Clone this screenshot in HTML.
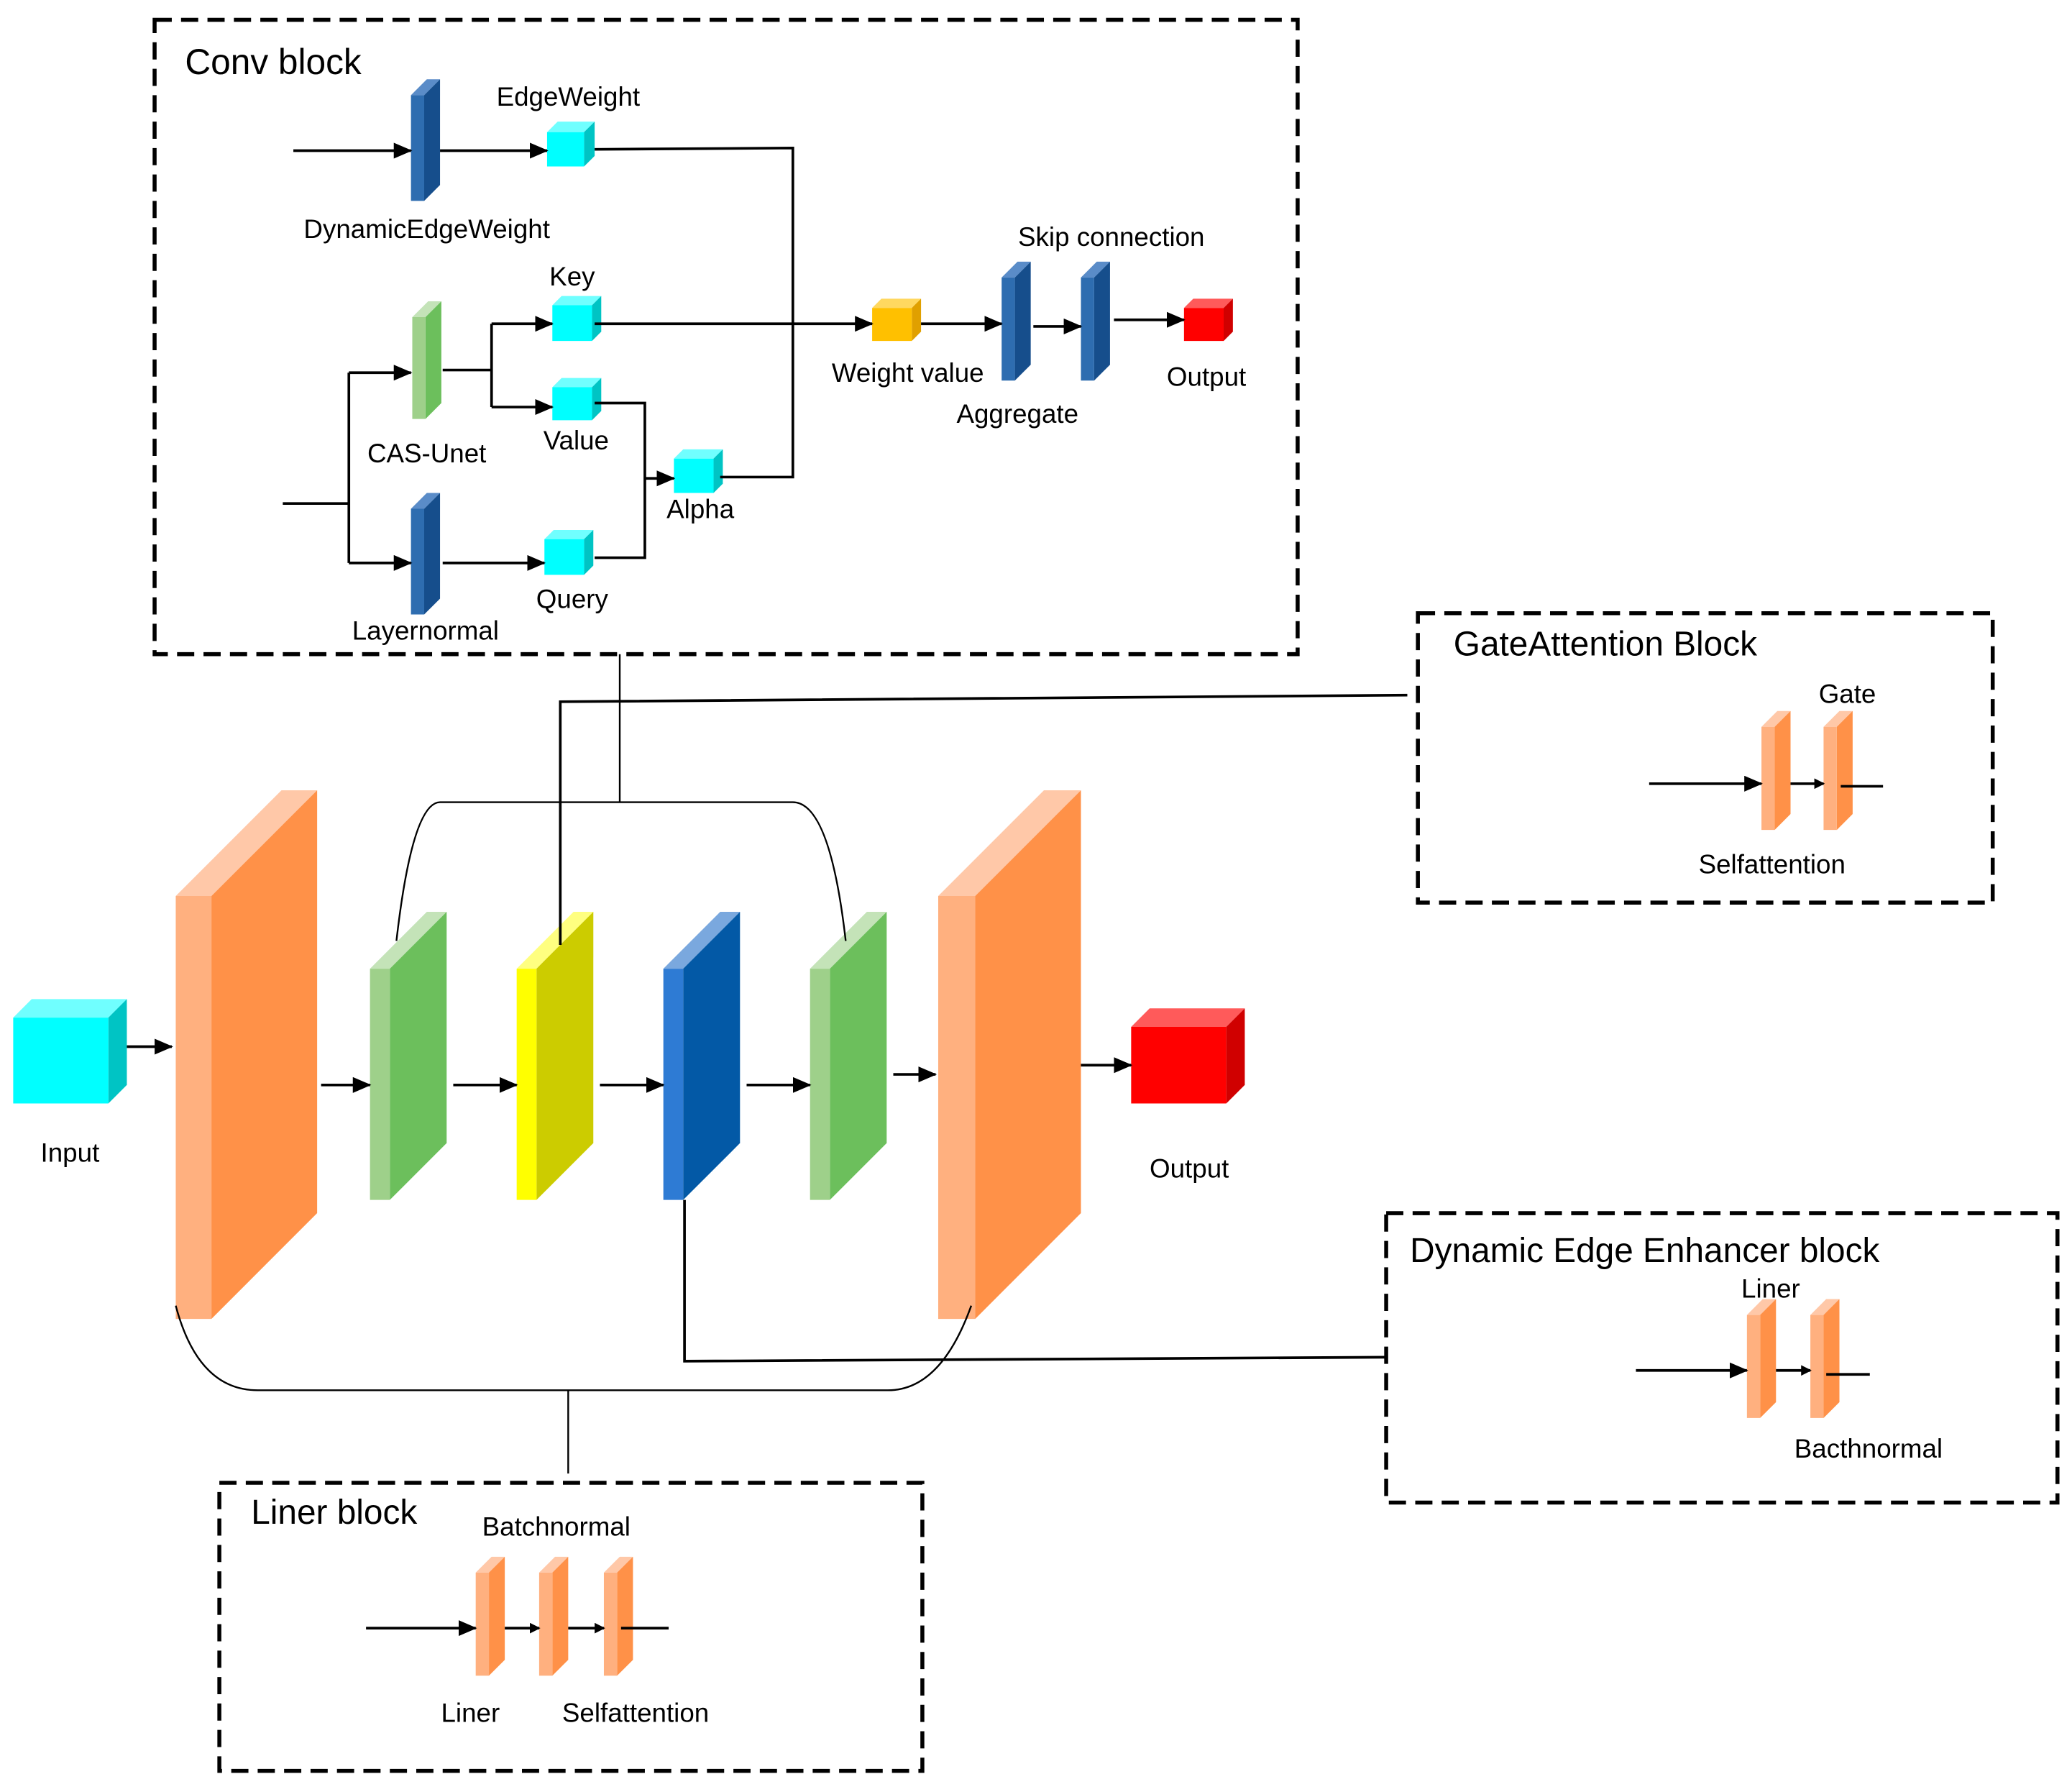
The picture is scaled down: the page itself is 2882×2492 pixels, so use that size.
<!DOCTYPE html>
<html><head><meta charset="utf-8"><style>
html,body{margin:0;padding:0;background:#fff;}
svg{display:block}
text{font-family:"Liberation Sans","DejaVu Sans",sans-serif;fill:#000}
</style></head><body>
<svg width="2882" height="2492" viewBox="0 0 1568 1356" preserveAspectRatio="none" xmlns="http://www.w3.org/2000/svg">
<defs>
<marker id="a" markerWidth="8" markerHeight="8" refX="7" refY="4" orient="auto" markerUnits="userSpaceOnUse"><path d="M0,0 L8,4 L0,8 z" fill="#000"/></marker>
<marker id="b" markerWidth="14" markerHeight="12" refX="13" refY="6" orient="auto" markerUnits="userSpaceOnUse"><path d="M0,0 L14,6 L0,12 z" fill="#000"/></marker>
</defs>
<rect width="1568" height="1356" fill="#fff"/>
<g id="shapes"></g>
<g fill="none" stroke="#000" stroke-width="3" stroke-dasharray="13 7">
<rect x="117" y="15" width="865" height="480"/>
<rect x="1073" y="464" width="435" height="219"/>
<rect x="1049" y="918" width="508" height="219"/>
<rect x="166" y="1122" width="532" height="218"/>
</g>
<g fill="none" stroke="#000" stroke-width="1.3">
<line x1="469" y1="495" x2="469" y2="607"/>
<path d="M300,712 Q312,607 333,607 L600,607 Q628,607 640,712"/>
<path d="M133,988 Q150,1052 195,1052 L672,1052 Q712,1052 735,988"/>
<line x1="430" y1="1052" x2="430" y2="1115"/>
</g>
<g fill="none" stroke="#000" stroke-width="2">
<polyline points="424,715 424,531 1065,526"/>
<polyline points="518,908 518,1030 1049,1027"/>
<polyline points="450,113 600,112 600,361 545,361"/>
<polyline points="214,381 264,381"/>
<line x1="264" y1="282" x2="264" y2="426"/>
<polyline points="335,280 372,280"/>
<line x1="372" y1="245" x2="372" y2="308"/>
<polyline points="450,305 488,305 488,422 450,422"/>
<line x1="1393" y1="595" x2="1425" y2="595"/>
<line x1="1382" y1="1040" x2="1415" y2="1040"/>
<line x1="470" y1="1232" x2="506" y2="1232"/>
</g>
<g fill="none" stroke="#000" stroke-width="2" marker-end="url(#b)">
<line x1="96" y1="792" x2="130" y2="792"/>
<line x1="243" y1="821" x2="280" y2="821"/>
<line x1="343" y1="821" x2="391" y2="821"/>
<line x1="454" y1="821" x2="502" y2="821"/>
<line x1="565" y1="821" x2="613" y2="821"/>
<line x1="676" y1="813" x2="708" y2="813"/>
<line x1="818" y1="806" x2="856" y2="806"/>
</g>
<g fill="none" stroke="#000" stroke-width="2" marker-end="url(#a)" >
<line x1="222" y1="114" x2="311" y2="114" marker-end="url(#b)"/>
<line x1="333" y1="114" x2="414" y2="114" marker-end="url(#b)"/>
<line x1="264" y1="282" x2="311" y2="282" marker-end="url(#b)"/>
<line x1="264" y1="426" x2="311" y2="426" marker-end="url(#b)"/>
<line x1="372" y1="245" x2="418" y2="245" marker-end="url(#b)"/>
<line x1="372" y1="308" x2="418" y2="308" marker-end="url(#b)"/>
<line x1="335" y1="426" x2="412" y2="426" marker-end="url(#b)"/>
<line x1="488" y1="362" x2="510" y2="362" marker-end="url(#b)"/>
<line x1="450" y1="245" x2="660" y2="245" marker-end="url(#b)"/>
<line x1="697" y1="245" x2="758" y2="245" marker-end="url(#b)"/>
<line x1="782" y1="247" x2="818" y2="247" marker-end="url(#b)"/>
<line x1="843" y1="242" x2="896" y2="242" marker-end="url(#b)"/>
<line x1="1248" y1="593" x2="1333" y2="593" marker-end="url(#b)"/>
<line x1="1355" y1="593" x2="1380" y2="593"/>
<line x1="1238" y1="1037" x2="1322" y2="1037" marker-end="url(#b)"/>
<line x1="1344" y1="1037" x2="1370" y2="1037"/>
<line x1="277" y1="1232" x2="360" y2="1232" marker-end="url(#b)"/>
<line x1="382" y1="1232" x2="408" y2="1232"/>
<line x1="430" y1="1232" x2="457" y2="1232"/>
</g>
<g font-size="20">
<text x="140" y="56" font-size="27">Conv block</text>
<text x="430" y="80" text-anchor="middle">EdgeWeight</text>
<text x="323" y="180" text-anchor="middle">DynamicEdgeWeight</text>
<text x="433" y="216" text-anchor="middle">Key</text>
<text x="323" y="350" text-anchor="middle">CAS-Unet</text>
<text x="436" y="340" text-anchor="middle">Value</text>
<text x="433" y="460" text-anchor="middle">Query</text>
<text x="322" y="484" text-anchor="middle">Layernormal</text>
<text x="530" y="392" text-anchor="middle">Alpha</text>
<text x="687" y="289" text-anchor="middle">Weight value</text>
<text x="770" y="320" text-anchor="middle">Aggregate</text>
<text x="841" y="186" text-anchor="middle">Skip connection</text>
<text x="913" y="292" text-anchor="middle">Output</text>
<text x="53" y="879" text-anchor="middle">Input</text>
<text x="900" y="891" text-anchor="middle">Output</text>
<text x="1100" y="496" font-size="26">GateAttention Block</text>
<text x="1398" y="532" text-anchor="middle">Gate</text>
<text x="1341" y="661" text-anchor="middle">Selfattention</text>
<text x="1067" y="955" font-size="26">Dynamic Edge Enhancer block</text>
<text x="1340" y="982" text-anchor="middle">Liner</text>
<text x="1414" y="1103" text-anchor="middle">Bacthnormal</text>
<text x="190" y="1153" font-size="26">Liner block</text>
<text x="421" y="1162" text-anchor="middle">Batchnormal</text>
<text x="356" y="1303" text-anchor="middle">Liner</text>
<text x="481" y="1303" text-anchor="middle">Selfattention</text>
</g>
</svg>
<script>
(function(){
var g=document.getElementById('shapes');var ns='http://www.w3.org/2000/svg';
function P(pts,f){var p=document.createElementNS(ns,'polygon');p.setAttribute('points',pts);p.setAttribute('fill',f);g.appendChild(p);}
function prism(x,y,w,h,d,fr,sd,tp){
P(x+','+y+' '+(x+d)+','+(y-d)+' '+(x+w+d)+','+(y-d)+' '+(x+w)+','+y,tp);
P((x+w)+','+y+' '+(x+w+d)+','+(y-d)+' '+(x+w+d)+','+(y+h-d)+' '+(x+w)+','+(y+h),sd);
P(x+','+y+' '+(x+w)+','+y+' '+(x+w)+','+(y+h)+' '+x+','+(y+h),fr);}
var OR=['#FFB07F','#FF9148','#FFC8A8'],GR=['#9ED08A','#6CBF5C','#C4E3B8'],YE=['#FFFF00','#CCCC00','#FFFF80'],BL=['#2E7BD4','#0359A6','#7AA8DE'],CY=['#00FFFF','#00C4C4','#70FFFF'],RD=['#FF0000','#D00000','#FF5A5A'],DB=['#2E6DB0','#164E8C','#5A8CC8'],GO=['#FFC000','#E0A000','#FFD860'];
function pr(x,y,w,h,d,c){prism(x,y,w,h,d,c[0],c[1],c[2]);}
pr(133,678,27,320,80,OR);pr(710,678,28,320,80,OR);
pr(280,733,15,175,43,GR);pr(391,733,15,175,43,YE);pr(502,733,15,175,43,BL);pr(613,733,15,175,43,GR);
pr(10,770,72,65,14,CY);pr(856,777,72,58,14,RD);
pr(311,72,10,80,12,DB);pr(414,100,28,26,8,CY);
pr(312,240,10,77,12,GR);pr(311,385,10,80,12,DB);
pr(418,231,30,27,7,CY);pr(418,293,30,25,7,CY);pr(412,408,30,27,7,CY);pr(510,347,30,26,7,CY);
pr(660,233,30,25,7,GO);pr(758,210,10,78,12,DB);pr(818,210,10,78,12,DB);pr(896,233,30,25,7,RD);
pr(1333,550,10,78,12,OR);pr(1380,550,10,78,12,OR);
pr(1322,995,10,78,12,OR);pr(1370,995,10,78,12,OR);
pr(360,1190,10,78,12,OR);pr(408,1190,10,78,12,OR);pr(457,1190,10,78,12,OR);
})();
</script>
</body></html>
